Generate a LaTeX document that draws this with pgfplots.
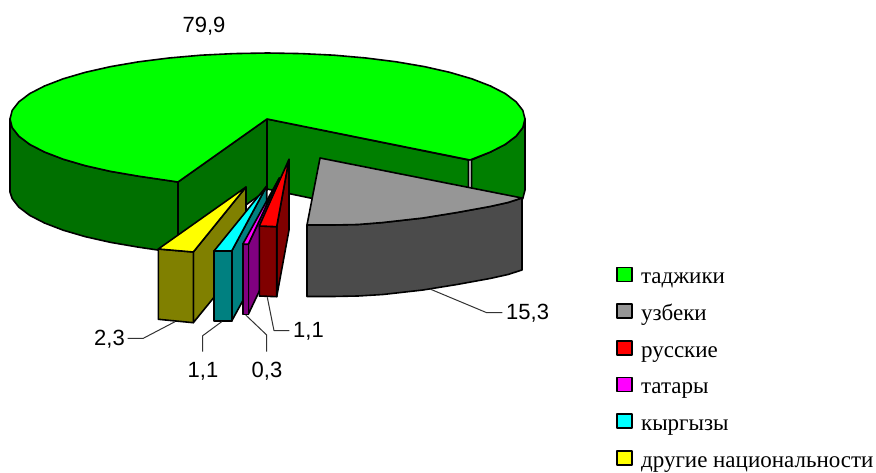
\documentclass[border=0pt]{standalone}
\usepackage{fontspec}
\setmainfont{Liberation Serif}
\newfontfamily\labelfont{Liberation Sans}
\usepackage{pgfplots}
\pgfplotsset{compat=1.18}
\definecolor{wallA}{HTML}{007000}
\definecolor{wallB}{HTML}{007F00}
\definecolor{cgreen}{HTML}{00FF00}
\definecolor{cgrey}{HTML}{969696}
\definecolor{cgreyd}{HTML}{4B4B4B}
\definecolor{cred}{HTML}{FF0000}
\definecolor{credd}{HTML}{800000}
\definecolor{cmag}{HTML}{FF00FF}
\definecolor{cmagd}{HTML}{800080}
\definecolor{ccyan}{HTML}{00FFFF}
\definecolor{ccyand}{HTML}{008080}
\definecolor{cyel}{HTML}{FFFF00}
\definecolor{cyeld}{HTML}{808000}
\begin{document}
\begin{tikzpicture}
\begin{axis}[
  name=a,
  scale only axis, width=876pt, height=473pt,
  xmin=0, xmax=876, ymin=0, ymax=473, y dir=reverse,
  hide axis, clip=false,
  legend cell align=left,
  legend style={at={(axis cs:616,266.5)},anchor=north west,draw=none,fill=none,
    font=\fontsize{23}{26}\selectfont,inner sep=0pt,outer sep=0pt,row sep=14.4pt,
    nodes={inner sep=0pt,text height=16pt,text depth=5pt}},
  legend image code/.code={\draw[#1,line width=1.6pt] (0pt,-3pt) rectangle (15pt,11pt);\path (23.5pt,0pt);},
  every axis plot/.append style={draw=black,line width=1.6pt,line join=round},
]
% outer wall, left
\addplot[forget plot,fill=wallA] coordinates {(10,119)(12.2,127.6)(18.8,136.1)(29.6,144.3)(44.5,152)(63.2,159.2)(85.4,165.7)(110.7,171.4)(138.7,176.2)(178,182)(178,253)(138.7,247.2)(110.7,242.4)(85.4,236.7)(63.2,230.2)(44.5,223)(29.6,215.3)(18.8,207.1)(12.2,198.6)(10,192)} --cycle;
% inner walls
\addplot[forget plot,fill=wallA] coordinates {(267,119)(178,182)(178,253)(267,190)} --cycle;
\addplot[forget plot,fill=wallB] coordinates {(267,119)(468.5,160)(468.5,231)(267,189)} --cycle;
% outer wall, right
\addplot[forget plot,fill=wallB] coordinates {(471.5,160)(490.5,152)(505.4,144.3)(516.2,136.1)(522.8,127.6)(525,119)(525,190)(522.8,198.6)(516.2,207.1)(505.4,215.3)(490.5,223)(471.5,231)} --cycle;
% top of the main slice
\addplot[forget plot,fill=cgreen] coordinates {(267,119)(470,160)(490.5,152)(505.4,144.3)(516.2,136.1)(522.8,127.6)(525,119)(522.8,110.4)(516.2,101.9)(505.4,93.7)(490.5,86)(471.8,78.8)(449.6,72.3)(424.3,66.6)(396.2,61.8)(366,58)(334.1,55.2)(301.1,53.6)(267.5,53)(233.9,53.6)(200.9,55.2)(169,58)(138.7,61.8)(110.7,66.6)(85.4,72.3)(63.2,78.8)(44.5,86)(29.6,93.7)(18.8,101.9)(12.2,110.4)(10,119)(12.2,127.6)(18.8,136.1)(29.6,144.3)(44.5,152)(63.2,159.2)(85.4,165.7)(110.7,171.4)(138.7,176.2)(178,182)} --cycle;
% grey slice
\addplot[forget plot,fill=cgreyd] coordinates {(307,225)(333,225)(358,224.5)(383,222.5)(423,218)(457,212.5)(490,206.5)(508,202.5)(522,198)(522,270)(508,274.5)(490,278.5)(457,284.5)(423,290)(383,294.5)(358,296)(333,296.5)(307,296.5)} --cycle;
\addplot[forget plot,fill=cgrey] coordinates {(320,158)(307,225)(333,225)(358,224.5)(383,222.5)(423,218)(457,212.5)(490,206.5)(508,202.5)(522,198)} --cycle;
% yellow slice
\addplot[forget plot,fill=cyeld] coordinates {(193.3,252)(246,187)(246,258)(193.3,322.7)} --cycle;
\addplot[forget plot,fill=cyeld] coordinates {(158.3,249)(193.3,252)(193.3,322.7)(158.3,319.3)} --cycle;
\addplot[forget plot,fill=cyel] coordinates {(158.3,249)(193.3,252)(246,187)} --cycle;
% cyan slice
\addplot[forget plot,fill=ccyand] coordinates {(231.7,251)(266.7,186)(266.7,257)(231.7,321)} --cycle;
\addplot[forget plot,fill=ccyand] coordinates {(214,251)(231.7,251)(231.7,321)(214,321)} --cycle;
\addplot[forget plot,fill=ccyan] coordinates {(214,251)(231.7,251)(266.7,186)} --cycle;
% magenta slice
\addplot[forget plot,fill=cmagd] coordinates {(248.3,244.3)(279.3,178)(279.3,249)(248.3,314.3)} --cycle;
\addplot[forget plot,fill=cmagd] coordinates {(242.7,244.3)(248.3,244.3)(248.3,314.3)(242.7,314.3)} --cycle;
\addplot[forget plot,fill=cmag] coordinates {(242.7,244.3)(248.3,244.3)(279.3,178)} --cycle;
% red slice
\addplot[forget plot,fill=credd] coordinates {(276.7,226.7)(289,159.3)(289,230)(276.7,296.7)} --cycle;
\addplot[forget plot,fill=credd] coordinates {(259.3,226)(276.7,226.7)(276.7,296.7)(259.3,296)} --cycle;
\addplot[forget plot,fill=cred] coordinates {(259.3,226)(276.7,226.7)(289,159.3)} --cycle;
% leader lines
\addplot[forget plot,draw=black!80,line width=1pt] coordinates {(430,289)(486.7,312.7)(502.3,312.7)};
\addplot[forget plot,draw=black!80,line width=1pt] coordinates {(175,321.7)(143.3,338.3)(127.7,338.3)};
\addplot[forget plot,draw=black!80,line width=1pt] coordinates {(221.7,321.7)(202.7,335.7)(202.7,351.7)};
\addplot[forget plot,draw=black!80,line width=1pt] coordinates {(245.7,315)(266.7,335)(266.7,351.7)};
\addplot[forget plot,draw=black!80,line width=1pt] coordinates {(267.3,297.3)(274,330.7)(289.3,330.7)};
% legend
\addlegendimage{fill=cgreen}\addlegendentry{таджики}
\addlegendimage{fill=cgrey}\addlegendentry{узбеки}
\addlegendimage{fill=cred}\addlegendentry{русские}
\addlegendimage{fill=cmag}\addlegendentry{татары}
\addlegendimage{fill=ccyan}\addlegendentry{кыргызы}
\addlegendimage{fill=cyel}\addlegendentry{другие национальности}
% value labels
\tikzset{val/.style={font=\labelfont\fontsize{22}{26}\selectfont,inner sep=0pt,text=black}}
\node[val] at (axis cs:204,26.5) {79,9};
\node[val,anchor=west] at (axis cs:506,313) {15,3};
\node[val,anchor=east] at (axis cs:125,339) {2,3};
\node[val] at (axis cs:203,371.5) {1,1};
\node[val] at (axis cs:267,371.5) {0,3};
\node[val,anchor=west] at (axis cs:293,331.5) {1,1};
\end{axis}
\path (a.south west) rectangle (a.north east);
\end{tikzpicture}
\end{document}
